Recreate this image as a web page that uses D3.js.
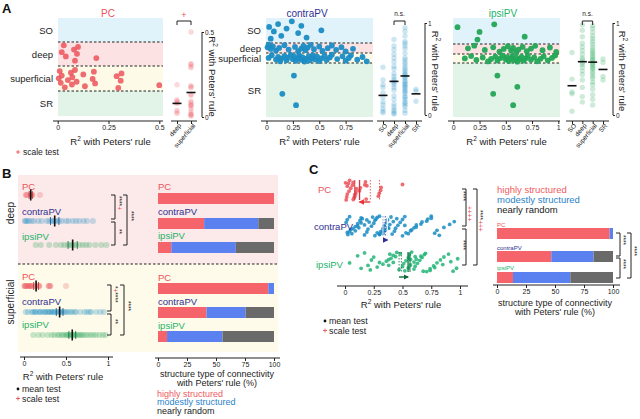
<!DOCTYPE html>
<html><head><meta charset="utf-8">
<script src="https://cdn.jsdelivr.net/npm/d3@7"></script>
<style>body{margin:0;background:#fff}svg{display:block;font-family:"Liberation Sans",Arial,sans-serif}</style>
</head><body><svg id="c" width="640" height="419"></svg>
<script>
// ---------------- DATA ----------------
const layers = ["SO", "deep", "superficial", "SR"];
const cellTypes = ["PC", "contraPV", "ipsiPV"];
const stripCatsPC = ["deep", "superficial"];
const stripCatsPV = ["SO", "deep", "superficial", "SR"];

// R² with Peters' rule, per cell type and layer
const pcSO = [];
const pcDeep = [0.02, 0.03, 0.04, 0.08, 0.085, 0.095, 0.1, 0.19];
const pcSup = [0.005, 0.01, 0.015, 0.02, 0.035, 0.05, 0.065, 0.07, 0.072, 0.085, 0.093, 0.126, 0.134, 0.172, 0.178, 0.184, 0.29, 0.298, 0.31, 0.314, 0.5];
const pcSR = [];

const contraSO = [0.025, 0.04, 0.07, 0.11, 0.14, 0.19, 0.24, 0.3, 0.33, 0.38, 0.52];
const contraDeep = [0.01, 0.02, 0.04, 0.06, 0.09, 0.12, 0.17, 0.21, 0.27, 0.3, 0.33, 0.35, 0.37, 0.39, 0.42, 0.45, 0.5, 0.53, 0.58, 0.62, 0.66, 0.71, 0.75, 0.82];
const contraSup = [0.02, 0.05, 0.09, 0.11, 0.13, 0.14, 0.17, 0.19, 0.2, 0.23, 0.25, 0.26, 0.28, 0.3, 0.31, 0.33, 0.34, 0.36, 0.37, 0.4, 0.41, 0.43, 0.44, 0.46, 0.48, 0.5, 0.52, 0.55, 0.57, 0.6, 0.62, 0.67, 0.72, 0.75, 0.78, 0.8, 0.86, 0.91, 0.95];
const contraSR = [0.15, 0.26, 0.28];

const ipsiSO = [0.04, 0.23, 0.25, 0.39, 0.68];
const ipsiDeep = [0.14, 0.2, 0.3, 0.38, 0.44, 0.48, 0.52, 0.55, 0.57, 0.6, 0.62, 0.66, 0.7, 0.74, 0.78, 0.85, 0.92, 0.98];
const ipsiSup = [0.11, 0.17, 0.22, 0.28, 0.33, 0.36, 0.4, 0.42, 0.45, 0.47, 0.5, 0.51, 0.53, 0.55, 0.56, 0.58, 0.6, 0.61, 0.63, 0.65, 0.67, 0.69, 0.71, 0.74, 0.77, 0.8, 0.83, 0.86, 0.9, 0.94, 0.97];
const ipsiSR = [0.38, 0.42, 0.57, 0.61];

// null-model (random) expectation in panel C
const cNullMean = [0.22, 0.33, 0.47];
const cNullMedian = [0.30, 0.35, 0.49];

// structure type of connectivity (%): highly / modestly / nearly random
const structTypes = ["highly structured", "modestly structured", "nearly random"];
const bDeepHigh = [100, 39.8, 11.5], bDeepMod = [0, 46.7, 55.6], bDeepRand = [0, 13.5, 32.9];
const bSupHigh = [95.1, 41.8, 7.8], bSupMod = [4.9, 33.7, 47.8], bSupRand = [0, 24.5, 44.4];
const cHigh = [97.1, 46.8, 13.8], cMod = [2.9, 36.5, 49.4], cRand = [0, 16.7, 36.8];

// tick labels
const ticksPC = [0, 0.25, 0.5], tickLabPC = ["0", "0.25", "0.5"];
const ticksContra = [0, 0.25, 0.5, 0.75], tickLabContra = ["0", "0.25", "0.5", "0.75"];
const ticksIpsi = [0, 0.25, 0.5, 0.75, 1], tickLabIpsi = ["0", "0.25", "0.5", "0.75", "1"];
const ticksB = [0, 0.5, 1], tickLabB = ["0", "0.5", "1"];
const ticksPct = [0, 25, 50, 75, 100], tickLabPct = ["0", "25", "50", "75", "100"];

// ---------------- STYLE ----------------
const F = "Liberation Sans, Arial, sans-serif";
const colPC = "#ec525a", colContraTxt = "#2e3192", colContraPt = "#1a8cc4", colIpsiTxt = "#22b36b", colIpsiPt = "#22a556", colIpsiC = "#22b577";
const bandColors = ["#e0f3fa", "#fce2e3", "#fdfbe7", "#e2f3e8"];
const barColors = ["#f5636b", "#5b80ef", "#6a6a6a"];
const ink = "#222";
const svg = d3.select("#c");
const jit = i => ((i * 0.6180339887 + 0.31) % 1);

function txt(g, x, y, s, o = {}) {
  const t = g.append("text").attr("x", x).attr("y", y).text(s)
    .attr("font-size", o.size || 9).attr("fill", o.fill || ink)
    .attr("text-anchor", o.anchor || "start").attr("font-family", F);
  if (o.weight) t.attr("font-weight", o.weight);
  if (o.rotate !== undefined) t.attr("transform", `rotate(${o.rotate},${x},${y})`);
  return t;
}
function styleAxis(ax, size) {
  ax.select(".domain").remove();
  ax.selectAll("line").attr("stroke", ink);
  ax.selectAll("text").attr("font-size", size || 7).attr("fill", ink).attr("font-family", F);
}
function hline(g, x1, x2, y, o = {}) {
  return g.append("line").attr("x1", x1).attr("x2", x2).attr("y1", y).attr("y2", y)
    .attr("stroke", o.stroke || ink).attr("stroke-width", o.w || 1).attr("stroke-dasharray", o.dash || null);
}
function vline(g, x, y1, y2, o = {}) {
  return g.append("line").attr("x1", x).attr("x2", x).attr("y1", y1).attr("y2", y2)
    .attr("stroke", o.stroke || ink).attr("stroke-width", o.w || 1).attr("stroke-dasharray", o.dash || null);
}
function bracketV(g, x, y1, y2, leg = 4) {
  g.append("path").attr("d", `M${x - leg},${y1}H${x}V${y2}H${x - leg}`).attr("fill", "none").attr("stroke", ink).attr("stroke-width", 1);
}
function bracketH(g, x1, x2, y, leg = 4) {
  g.append("path").attr("d", `M${x1},${y + leg}V${y}H${x2}V${y + leg}`).attr("fill", "none").attr("stroke", ink).attr("stroke-width", 1);
}
function stars(g, x, yTop, parts) {
  const t = g.append("text").attr("x", x).attr("y", yTop).attr("font-size", 6.5).attr("font-family", F)
    .attr("transform", `rotate(90,${x},${yTop})`);
  parts.forEach(p => t.append("tspan").text(p[0]).attr("fill", p[1]));
}
function legendTests(g, x, y1, y2) {
  g.append("circle").attr("cx", x).attr("cy", y1 - 3).attr("r", 1.4).attr("fill", "#111");
  txt(g, x + 4, y1, "mean test", { size: 8.8 });
  g.append("path").attr("d", `M${x - 2},${y2 - 3}H${x + 2}M${x},${y2 - 5}V${y2 - 1}`).attr("stroke", colPC).attr("stroke-width", 0.9);
  txt(g, x + 4, y2, "scale test", { size: 8.8 });
}
function r2label(g, x, y, o = {}) {
  const t = txt(g, x, y, "R", Object.assign({ anchor: "middle", size: 9.5 }, o));
  t.append("tspan").text("2").attr("font-size", 6.5).attr("dy", -4);
  t.append("tspan").text(" with Peters' rule").attr("dy", 4);
  return t;
}

// ---------------- PANEL A ----------------
txt(svg, 2, 13, "A", { size: 13, weight: "bold", fill: "#111" });

function scatterA(c) {
  const g = svg.append("g");
  const x = d3.scaleLinear().domain(c.domain).range(c.range);
  const B = c.bands;
  layers.forEach((l, k) => g.append("rect").attr("x", c.bx0).attr("width", c.bx1 - c.bx0)
    .attr("y", B[k]).attr("height", B[k + 1] - B[k]).attr("fill", bandColors[k]));
  [1, 2, 3].forEach(k => hline(g, c.bx0, c.bx1, B[k], { dash: "2.5,2", w: 1 }));
  if (c.labels) layers.forEach((l, k) => txt(g, c.bx0 - 5, (B[k] + B[k + 1]) / 2 + 3.5, l, { anchor: "end", size: 9.5 }));
  c.data.forEach((arr, k) => {
    const h = B[k + 1] - B[k], pad = Math.min(3, h * 0.15);
    g.selectAll(null).data(arr).join("circle")
      .attr("cx", d => x(d)).attr("cy", (d, i) => B[k] + pad + jit(i + k * 5) * (h - 2 * pad))
      .attr("r", 2.9).attr("fill", c.color).attr("fill-opacity", c.op || 0.95);
  });
  const ax = g.append("g").attr("transform", `translate(0,${c.axisY})`)
    .call(d3.axisBottom(x).tickValues(c.ticks).tickFormat((d, i) => c.tickLabels[i]).tickSize(3).tickPadding(1.5));
  styleAxis(ax, 7);
  hline(g, c.bx0 - 5, c.bx1, c.axisY);
  txt(g, c.titleX, 17, c.title, { anchor: "middle", size: 10, fill: c.titleColor });
  r2label(g, (c.bx0 + c.bx1) / 2, 145);
}

function stripA(c) {
  const g = svg.append("g");
  const y = d3.scaleLinear().domain([0, c.yMax]).range([c.yBot, c.yTop]);
  const xp = d3.scalePoint().domain(c.cats).range(c.xr);
  c.cats.forEach((cat, k) => {
    const arr = c.data[k], cx = xp(cat);
    g.selectAll(null).data(arr).join("circle").attr("cx", cx).attr("cy", d => y(d))
      .attr("r", 2.7).attr("fill", c.color).attr("fill-opacity", 0.22);
    if (arr.length) {
      const m = d3.mean(arr);
      hline(g, cx - 4.5, cx + 4.5, y(m), { w: 1.6, stroke: "#111" });
    }
  });
  const ay = g.append("g").attr("transform", `translate(${c.axisX},0)`)
    .call(d3.axisRight(y).tickValues([0, c.yMax]).tickFormat((d, i) => c.yLabs[i]).tickSize(2).tickPadding(1));
  styleAxis(ay, 6.5);
  vline(g, c.axisX, c.yTop, c.yBot);
  r2label(g, c.labX, (c.yTop + c.yBot) / 2 + 2, { rotate: 90 });
  const ax = g.append("g").attr("transform", `translate(0,121)`).call(d3.axisBottom(xp).tickSize(3));
  styleAxis(ax, 6.5);
  ax.selectAll("text").attr("x", -1).attr("y", 4).attr("dy", "0.35em")
    .attr("transform", "rotate(-50)").attr("text-anchor", "end");
  hline(g, c.xr[0] - 6, c.xr[1] + 6, 121);
  const b0 = xp(c.sig[0]), b1 = xp(c.sig[1]);
  bracketH(g, b0, b1, 21, 4);
  txt(g, (b0 + b1) / 2, c.sigTxt === "+" ? 18 : 16, c.sigTxt, { anchor: "middle", size: c.sigTxt === "+" ? 9 : 6.5, fill: c.sigTxt === "+" ? colPC : ink });
}

scatterA({ domain: [0, 0.5], range: [57.7, 159.3], bx0: 58, bx1: 163, bands: [18, 42, 66, 91, 116], axisY: 121,
  data: [pcSO, pcDeep, pcSup, pcSR], color: colPC, op: 0.85, labels: true, title: "PC", titleColor: colPC, titleX: 108,
  ticks: ticksPC, tickLabels: tickLabPC });
scatterA({ domain: [0, 1], range: [266.5, 372], bx0: 266, bx1: 373, bands: [18, 43, 53, 63, 117], axisY: 121,
  data: [contraSO, contraDeep, contraSup, contraSR], color: colContraPt, labels: true, title: "contraPV", titleColor: colContraTxt, titleX: 307,
  ticks: ticksContra, tickLabels: tickLabContra });
scatterA({ domain: [0, 1], range: [453.3, 558.3], bx0: 453, bx1: 560, bands: [18, 44, 54, 63, 117], axisY: 121,
  data: [ipsiSO, ipsiDeep, ipsiSup, ipsiSR], color: colIpsiPt, labels: false, title: "ipsiPV", titleColor: colIpsiTxt, titleX: 503,
  ticks: ticksIpsi, tickLabels: tickLabIpsi });

stripA({ cats: stripCatsPC, xr: [177, 191], data: [pcDeep, pcSup], color: colPC, yMax: 0.5, yTop: 32, yBot: 117,
  yLabs: ["0", "0.5"], axisX: 202, labX: 209, sig: ["deep", "superficial"], sigTxt: "+" });
stripA({ cats: stripCatsPV, xr: [383, 416], data: [contraSO, contraDeep, contraSup, contraSR], color: colContraPt, yMax: 1, yTop: 23, yBot: 115,
  yLabs: ["0", "1"], axisX: 425, labX: 432, sig: ["deep", "superficial"], sigTxt: "n.s." });
stripA({ cats: stripCatsPV, xr: [572, 603], data: [ipsiSO, ipsiDeep, ipsiSup, ipsiSR], color: colIpsiPt, yMax: 1, yTop: 23, yBot: 115,
  yLabs: ["0", "1"], axisX: 613, labX: 619, sig: ["deep", "superficial"], sigTxt: "n.s." });

// legend under A
svg.append("path").attr("d", "M16,152H20M18,150V154").attr("stroke", colPC).attr("stroke-width", 0.9);
txt(svg, 23, 155, "scale test", { size: 8.5 });

// ---------------- PANEL B ----------------
txt(svg, 2, 178, "B", { size: 13, weight: "bold", fill: "#111" });
const gB = svg.append("g");
gB.append("rect").attr("x", 18).attr("y", 175).attr("width", 260).attr("height", 89).attr("fill", "#fce9e9");
gB.append("rect").attr("x", 18).attr("y", 264).attr("width", 260).attr("height", 88).attr("fill", "#fefbea");
hline(gB, 18, 278, 264, { dash: "2.5,2" });
txt(gB, 14, 213, "deep", { size: 10, anchor: "middle", rotate: -90 });
txt(gB, 14, 302, "superficial", { size: 10, anchor: "middle", rotate: -90 });

const xB = d3.scaleLinear().domain([0, 1]).range([24, 108]);
const typeTxtCol = [colPC, colContraTxt, colIpsiTxt];
const typePtCol = [colPC, colContraPt, colIpsiPt];
const typeDark = ["#b8232b", "#0b4f8a", "#0c6b33"];
const bDeepData = [pcDeep, contraDeep, ipsiDeep];
const bSupData = [pcSup, contraSup, ipsiSup];
const bDeepRows = [195, 221, 245], bSupRows = [286, 312, 335];
const bDeepLab = [190, 215, 240], bSupLab = [280, 305, 328];

function stripRow(g, x, arr, cy, k) {
  g.selectAll(null).data(arr).join("circle").attr("cx", d => x(d)).attr("cy", cy).attr("r", 3)
    .attr("fill", typePtCol[k]).attr("fill-opacity", 0.25);
  const m = d3.mean(arr), s = d3.deviation(arr) / Math.sqrt(arr.length);
  vline(g, x(m - s), cy - 4, cy + 4, { stroke: typeDark[k], w: 0.8 });
  vline(g, x(m + s), cy - 4, cy + 4, { stroke: typeDark[k], w: 0.8 });
  vline(g, x(m), cy - 5.5, cy + 5.5, { stroke: "#111", w: 1.6 });
}
cellTypes.forEach((ct, k) => {
  txt(gB, 22, bDeepLab[k], ct, { size: 9.5, fill: typeTxtCol[k] });
  stripRow(gB, xB, bDeepData[k], bDeepRows[k], k);
  txt(gB, 22, bSupLab[k], ct, { size: 9.5, fill: typeTxtCol[k] });
  stripRow(gB, xB, bSupData[k], bSupRows[k], k);
});
bracketV(gB, 115, 195, 219); stars(gB, 117, 196, [["****", ink], ["+", colPC]]);
bracketV(gB, 115, 222, 245); stars(gB, 117, 229, [["**", ink]]);
bracketV(gB, 127, 195, 245); stars(gB, 129, 211, [["****", ink]]);
bracketV(gB, 111, 285, 311); stars(gB, 113, 286, [["*", ink], ["+", colPC], ["****", ink]]);
bracketV(gB, 111, 314, 335); stars(gB, 113, 319, [["**", ink]]);
bracketV(gB, 124, 285, 335); stars(gB, 126, 301, [["****", ink]]);

{ const ax = gB.append("g").attr("transform", "translate(0,357)")
    .call(d3.axisBottom(xB).tickValues(ticksB).tickFormat((d, i) => tickLabB[i]).tickSize(3).tickPadding(1.5));
  styleAxis(ax, 7); hline(gB, 20, 113, 357);
  r2label(gB, 63, 380);
  legendTests(gB, 18, 392, 401.5);
}

function stackedBars(g, x, high, mod, rand, rowsY, h, labY, labSize) {
  const table = cellTypes.map((ct, k) => ({ type: ct, high: high[k], mod: mod[k], rand: rand[k], y: rowsY[k] }));
  const series = d3.stack().keys(["high", "mod", "rand"])(table);
  series.forEach((s, j) => {
    g.selectAll(null).data(s).join("rect")
      .attr("x", d => x(d[0])).attr("width", d => Math.max(0, x(d[1]) - x(d[0])))
      .attr("y", d => d.data.y).attr("height", h).attr("fill", barColors[j]);
  });
  cellTypes.forEach((ct, k) => txt(g, x(0), labY[k], ct, { size: labSize, fill: typeTxtCol[k] }));
}
const xBar = d3.scaleLinear().domain([0, 100]).range([158, 274]);
stackedBars(gB, xBar, bDeepHigh, bDeepMod, bDeepRand, [193, 218, 242], 11, [190, 215, 239], 9.5);
stackedBars(gB, xBar, bSupHigh, bSupMod, bSupRand, [283, 307, 331], 11, [281, 305, 329], 9.5);
{ const ax = gB.append("g").attr("transform", "translate(0,358)")
    .call(d3.axisBottom(xBar).tickValues(ticksPct).tickFormat((d, i) => tickLabPct[i]).tickSize(3).tickPadding(1.5));
  styleAxis(ax, 7); hline(gB, 155, 280, 358);
  txt(gB, 217, 377, "structure type of connectivity", { anchor: "middle", size: 9 });
  txt(gB, 217, 386, "with Peters' rule (%)", { anchor: "middle", size: 9 });
  structTypes.forEach((s, j) => txt(gB, 157, 396.5 + j * 8.8, s, { size: 9, fill: j === 2 ? "#222" : (j === 1 ? "#2a82c9" : "#f05a62") }));
}

// ---------------- PANEL C ----------------
txt(svg, 309, 174, "C", { size: 13, weight: "bold", fill: "#111" });
const gC = svg.append("g");
const xC = d3.scaleLinear().domain([0, 1]).range([345, 460]);
const cData = [pcSO.concat(pcDeep, pcSup, pcSR), contraSO.concat(contraDeep, contraSup, contraSR), ipsiSO.concat(ipsiDeep, ipsiSup, ipsiSR)];
const cRows = [190, 226, 262], cArrowY = [202, 240, 277];
const cPtCol = [colPC, colContraPt, colIpsiC];
const cLineCol = ["#d9333c", "#e9f3fb", "#0d7a40"];
const cArrowCol = ["#e8343d", "#2e3192", "#0d6b3a"];
const defs = svg.append("defs");
cArrowCol.forEach((c, k) => defs.append("marker").attr("id", "ah" + k).attr("viewBox", "0 0 10 10").attr("refX", 8).attr("refY", 5)
  .attr("markerWidth", 4).attr("markerHeight", 4).attr("orient", "auto-start-reverse")
  .append("path").attr("d", "M0,0L10,5L0,10z").attr("fill", c));
cData.forEach((arr, k) => {
  const cy = cRows[k];
  gC.selectAll(null).data(arr).join("circle").attr("cx", d => xC(d)).attr("cy", (d, i) => cy + (jit(i * 3 + k) - 0.5) * 20)
    .attr("r", 1.9).attr("fill", cPtCol[k]).attr("fill-opacity", 0.85);
  const m = d3.mean(arr), md = d3.median(arr);
  vline(gC, xC(cNullMean[k]), cy - 10, cy + 10, { stroke: cArrowCol[k], dash: "1.5,1.5", w: 0.8 });
  vline(gC, xC(cNullMedian[k]), cy - 10, cy + 10, { stroke: cArrowCol[k], dash: "1.5,1.5", w: 0.8 });
  vline(gC, xC(m), cy - 10, cy + 10, { stroke: cLineCol[k], w: 1.3 });
  vline(gC, xC(md), cy - 10, cy + 10, { stroke: cLineCol[k], w: 1 });
  gC.append("line").attr("x1", xC(cNullMean[k])).attr("x2", xC(m)).attr("y1", cArrowY[k]).attr("y2", cArrowY[k])
    .attr("stroke", cArrowCol[k]).attr("stroke-width", 1.4).attr("marker-end", `url(#ah${k})`);
});
txt(gC, 318, 193, "PC", { size: 9.5, fill: colPC });
txt(gC, 314, 230, "contraPV", { size: 9.5, fill: colContraTxt });
txt(gC, 316, 268, "ipsiPV", { size: 9.5, fill: colIpsiTxt });
bracketV(gC, 466, 189, 226); stars(gC, 461, 191, [["****", ink]]); stars(gC, 467, 206, [["++++", colPC]]);
bracketV(gC, 466, 229, 265); stars(gC, 461, 240, [["****", ink]]);
bracketV(gC, 477, 189, 265); stars(gC, 478, 210, [["****", ink], ["+++", colPC]]);
{ const ax = gC.append("g").attr("transform", "translate(0,286)")
    .call(d3.axisBottom(xC).tickValues(ticksIpsi).tickFormat((d, i) => tickLabIpsi[i]).tickSize(3).tickPadding(1.5));
  styleAxis(ax, 7); hline(gC, 337, 468, 286);
  r2label(gC, 401, 308);
  legendTests(gC, 325, 324, 333.5);
}
const xCBar = d3.scaleLinear().domain([0, 100]).range([497, 613]);
stackedBars(gC, xCBar, cHigh, cMod, cRand, [228, 251, 272], 11, [226.5, 249.5, 270], 6);
structTypes.forEach((s, j) => txt(gC, 497, 193 + j * 10, s, { size: 9.5, fill: j === 2 ? "#222" : (j === 1 ? "#2a82c9" : "#f05a62") }));
{ const ax = gC.append("g").attr("transform", "translate(0,285)")
    .call(d3.axisBottom(xCBar).tickValues(ticksPct).tickFormat((d, i) => tickLabPct[i]).tickSize(3).tickPadding(1.5));
  styleAxis(ax, 7); hline(gC, 493, 620, 285);
  txt(gC, 555, 306, "structure type of connectivity", { anchor: "middle", size: 9 });
  txt(gC, 555, 315, "with Peters' rule (%)", { anchor: "middle", size: 9 });
}
bracketV(gC, 620, 233, 256); stars(gC, 621, 235, [["****", ink]]);
bracketV(gC, 620, 258, 278); stars(gC, 621, 259, [["****", ink]]);
bracketV(gC, 631, 233, 278); stars(gC, 632, 246, [["****", ink]]);
</script>
</body></html>
